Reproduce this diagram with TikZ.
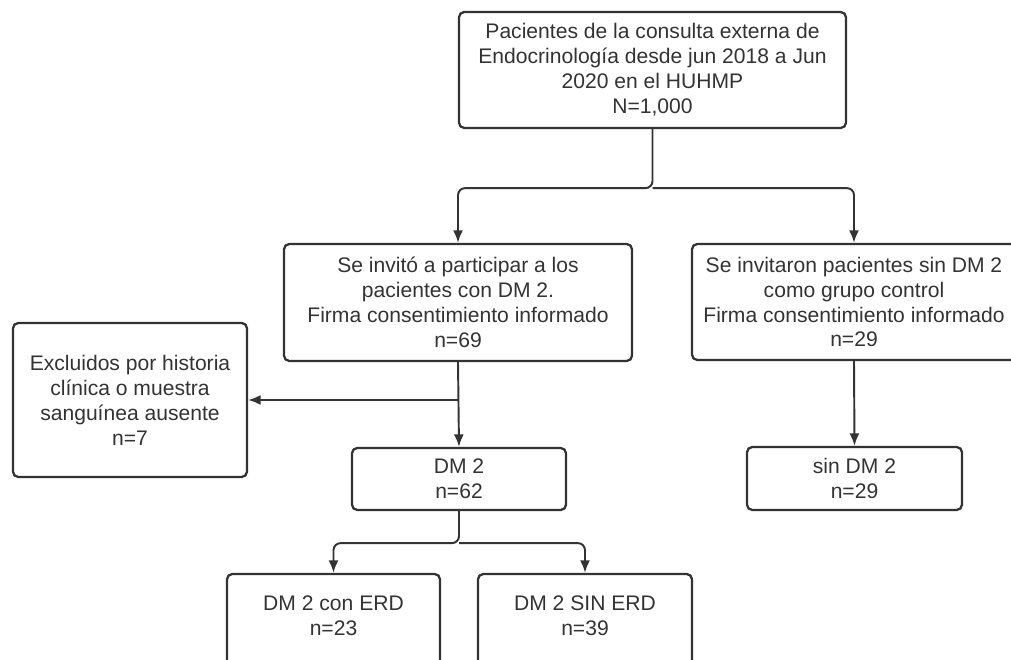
\documentclass[tikz,border=0pt]{standalone}
\usepackage{fontspec}
\setmainfont{Liberation Sans}
\usetikzlibrary{calc, positioning, arrows.meta}

\begin{document}
\begin{tikzpicture}[>={Latex[length=0.25cm, width=0.2cm]},
    caja/.style={draw=black!80, line width=1.3pt, rounded corners=3pt, align=center,
        inner sep=0pt, text=black!80, font=\fontsize{12}{14.2}\selectfont},
    flecha/.style={->, draw=black!80, line width=1.1pt, rounded corners=4pt}]
    \clip (0,0) rectangle (20.22,-13.2);

    % 1. Caja superior
    \node[caja, minimum width=7.74cm, minimum height=2.32cm] (pac) at (13.05,-1.40)
        {Pacientes de la consulta externa de\\Endocrinología desde jun 2018 a Jun\\2020 en el HUHMP\\N=1,000};

    % 2. Segundo nivel
    \node[caja, minimum width=6.96cm, minimum height=2.34cm] (inv) at (9.16,-6.05)
        {Se invitó a participar a los\\pacientes con DM 2.\\Firma consentimiento informado\\n=69};
    \node[caja, minimum width=6.48cm, minimum height=2.32cm] (ctrl) at (17.08,-6.04)
        {Se invitaron pacientes sin DM 2\\como grupo control\\Firma consentimiento informado\\n=29};

    % 3. Excluidos y tercer nivel
    \node[caja, minimum width=4.68cm, minimum height=3.08cm] (excl) at (2.60,-8.00)
        {Excluidos por historia\\clínica o muestra\\sanguínea ausente\\n=7};
    \node[caja, minimum width=4.28cm, minimum height=1.24cm] (dm) at (9.18,-9.58)
        {DM 2\\n=62};
    \node[caja, minimum width=4.30cm, minimum height=1.26cm] (sindm) at (17.09,-9.57)
        {sin DM 2\\n=29};

    % 4. Cajas inferiores (cortadas por el borde)
    \node[caja, minimum width=4.26cm, minimum height=1.9cm, text depth=7pt] (con) at (6.67,-12.43)
        {DM 2 con ERD\\n=23};
    \node[caja, minimum width=4.28cm, minimum height=1.9cm, text depth=7pt] (sin) at (11.70,-12.43)
        {DM 2 SIN ERD\\n=39};

    % 5. Conectores
    \coordinate (r1) at ($(pac.south)+(0,-1.18)$);
    \draw[flecha] (pac.south) -- (r1) -| (inv.north);
    \draw[flecha] (r1) -| (ctrl.north);
    \draw[flecha] (inv.south) -- (dm.north);
    \draw[flecha] (inv.south |- excl.east) -- (excl.east);
    \draw[flecha] (ctrl.south) -- (sindm.north);
    \coordinate (r2) at ($(dm.south)+(0,-0.64)$);
    \draw[flecha] (dm.south) -- (r2) -| (con.north);
    \draw[flecha] (r2) -| (sin.north);
\end{tikzpicture}
\end{document}
